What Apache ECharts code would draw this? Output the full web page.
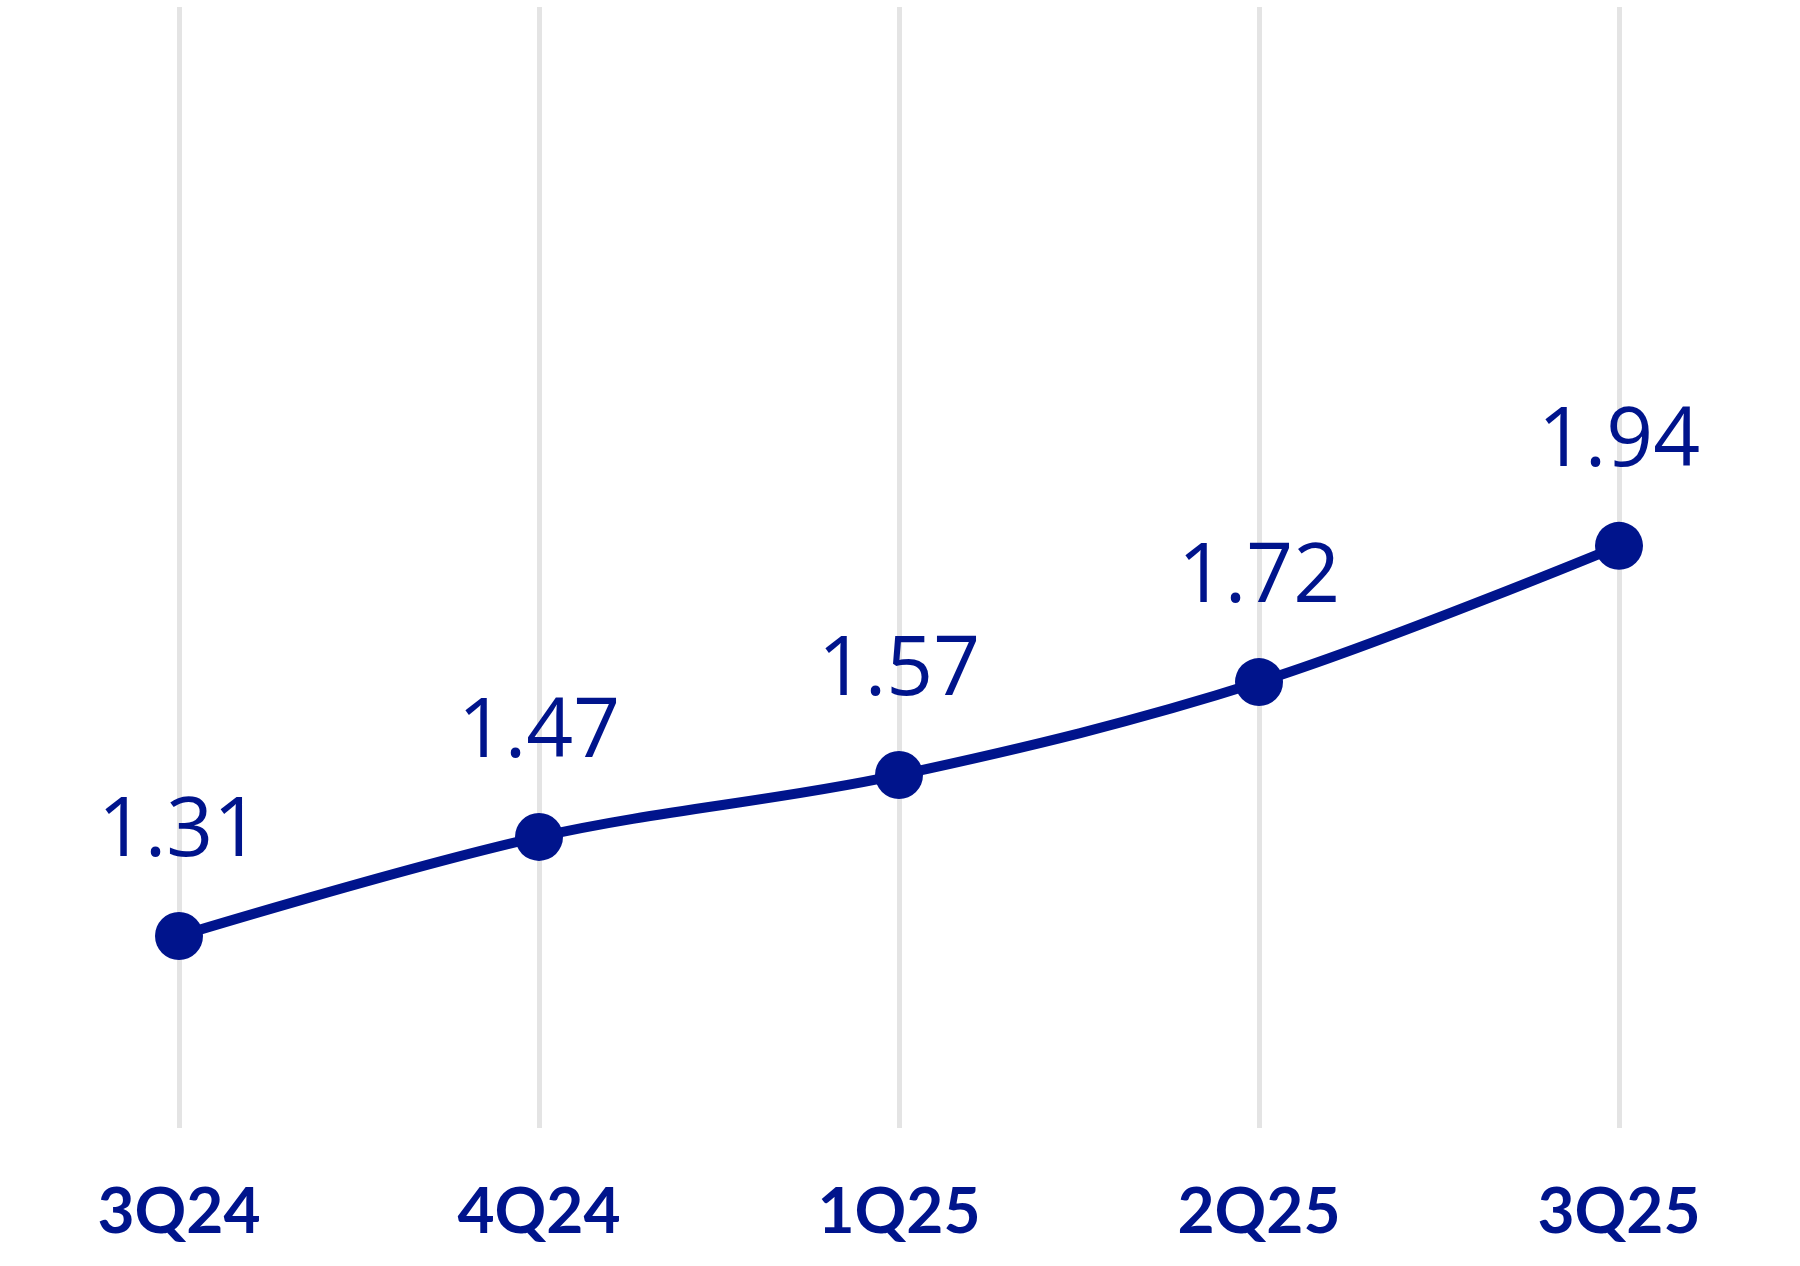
<!DOCTYPE html>
<html>
<head>
<meta charset="utf-8">
<script src="https://cdn.jsdelivr.net/npm/echarts@6/dist/echarts.min.js"></script>
<style>
html,body{margin:0;padding:0;background:#fff;}
#chart{width:1800px;height:1266px;}
</style>
</head>
<body>
<div id="chart"></div>
<script>
const categories = ['3Q24', '4Q24', '1Q25', '2Q25', '3Q25'];
const values = [1.31, 1.47, 1.57, 1.72, 1.94];

const navy = '#00148c';
const chart = echarts.init(document.getElementById('chart'));
chart.setOption({
  animation: false,
  grid: { left: 179, right: 181, top: 7, bottom: 138 },
  xAxis: {
    type: 'category',
    data: categories,
    boundaryGap: false,
    axisLine: { show: false },
    axisTick: { show: false },
    splitLine: { show: true, lineStyle: { color: '#e4e4e4', width: 5 } },
    axisLabel: {
      color: navy, fontFamily: 'Lato', fontWeight: 'bold', fontSize: 64, margin: 52
    }
  },
  yAxis: {
    type: 'value',
    min: 1, max: 2.81,
    show: false,
    splitLine: { show: false }
  },
  series: [{
    type: 'line',
    data: values,
    smooth: 0.35,
    symbol: 'circle',
    symbolSize: 48,
    itemStyle: { color: navy },
    lineStyle: { color: navy, width: 10 },
    label: {
      show: true, position: 'top', distance: 38,
      color: navy, fontFamily: 'Open Sans', fontSize: 82,
      formatter: p => p.value.toFixed(2)
    }
  }]
});
</script>
</body>
</html>
